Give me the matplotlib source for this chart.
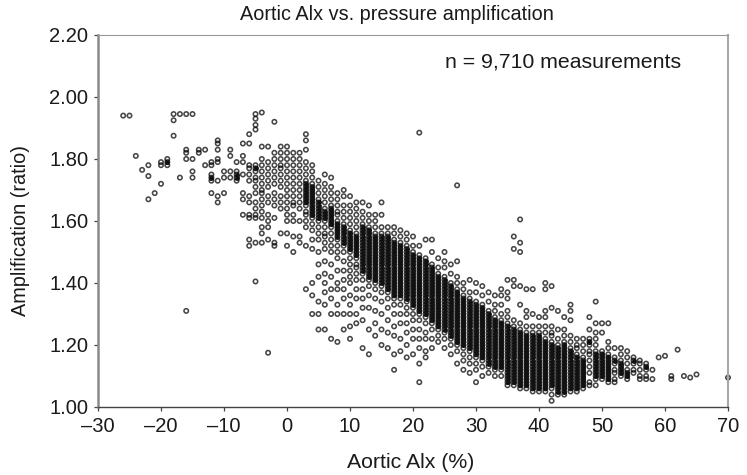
import matplotlib.pyplot as plt

plt.rcParams['font.family'] = ['Liberation Sans', 'DejaVu Sans']

x_ticks = [-30, -20, -10, 0, 10, 20, 30, 40, 50, 60, 70]
y_ticks = [1.00, 1.20, 1.40, 1.60, 1.80, 2.00, 2.20]

# values, one list of amplification per integer Alx
aix_left = list(range(-26, 0))
amp_left = [
    [1.94], [1.94], [1.81], [1.765], [1.78, 1.745, 1.67], [1.69],
    [1.79, 1.78, 1.72], [1.80, 1.79, 1.78], [1.945, 1.925, 1.875], [1.945, 1.74],
    [1.945, 1.83, 1.82, 1.80, 1.31], [1.945, 1.80, 1.76, 1.74], [1.83, 1.82],
    [1.83, 1.78], [1.79, 1.78, 1.75, 1.74, 1.73, 1.69],
    [1.86, 1.85, 1.83, 1.80, 1.79, 1.73, 1.68, 1.66], [1.76, 1.74, 1.69],
    [1.83, 1.81, 1.76, 1.74], [1.79, 1.76, 1.75, 1.74, 1.73],
    [1.85, 1.81, 1.79, 1.75, 1.69, 1.67, 1.62],
    [1.88, 1.85, 1.78, 1.77, 1.75, 1.73, 1.68, 1.66, 1.62, 1.61, 1.54, 1.52],
    [1.945, 1.93, 1.91, 1.895, 1.78, 1.77, 1.76, 1.74, 1.73, 1.71, 1.69, 1.66, 1.64, 1.62, 1.61, 1.53, 1.405],
    [1.95, 1.84, 1.80, 1.78, 1.76, 1.74, 1.72, 1.70, 1.69, 1.67, 1.65, 1.63, 1.61, 1.58, 1.56, 1.53],
    [1.84, 1.79, 1.77, 1.75, 1.73, 1.71, 1.68, 1.66, 1.62, 1.60, 1.58, 1.54, 1.175],
    [1.92, 1.82, 1.80, 1.78, 1.76, 1.74, 1.72, 1.69, 1.67, 1.65, 1.61, 1.53, 1.52],
    [1.84, 1.82, 1.80, 1.78, 1.77, 1.75, 1.73, 1.71, 1.68, 1.66, 1.64, 1.56],
]

aix_mid = list(range(0, 20))
amp_mid = [
    [1.84, 1.82, 1.80, 1.78, 1.76, 1.74, 1.72, 1.70, 1.68, 1.66, 1.64, 1.62, 1.60, 1.56, 1.52],
    [1.82, 1.80, 1.78, 1.76, 1.74, 1.72, 1.70, 1.68, 1.66, 1.65, 1.62, 1.60, 1.55, 1.50],
    [1.82, 1.80, 1.78, 1.76, 1.74, 1.72, 1.70, 1.68, 1.66, 1.64, 1.60, 1.55, 1.53],
    [1.88, 1.86, 1.83, 1.79, 1.77, 1.75, 1.73, 1.72, 1.71, 1.70, 1.69, 1.68, 1.67, 1.66, 1.65, 1.63, 1.62, 1.60, 1.58, 1.52, 1.38],
    [1.78, 1.76, 1.74, 1.72, 1.71, 1.70, 1.69, 1.68, 1.67, 1.66, 1.65, 1.64, 1.63, 1.62, 1.61, 1.59, 1.57, 1.54, 1.51, 1.40, 1.36, 1.30],
    [1.73, 1.71, 1.69, 1.67, 1.66, 1.65, 1.64, 1.63, 1.62, 1.61, 1.60, 1.58, 1.56, 1.54, 1.50, 1.46, 1.42, 1.34, 1.30, 1.25],
    [1.75, 1.72, 1.70, 1.68, 1.66, 1.64, 1.63, 1.62, 1.61, 1.60, 1.58, 1.56, 1.55, 1.53, 1.51, 1.47, 1.43, 1.40, 1.37, 1.33, 1.25],
    [1.74, 1.71, 1.69, 1.67, 1.65, 1.64, 1.63, 1.62, 1.61, 1.60, 1.59, 1.58, 1.56, 1.54, 1.52, 1.50, 1.46, 1.42, 1.38, 1.35, 1.30, 1.22],
    [1.69, 1.67, 1.65, 1.63, 1.62, 1.60, 1.59, 1.58, 1.57, 1.56, 1.55, 1.54, 1.52, 1.50, 1.48, 1.44, 1.40, 1.38, 1.33, 1.30, 1.21],
    [1.70, 1.68, 1.65, 1.63, 1.61, 1.59, 1.58, 1.57, 1.56, 1.55, 1.54, 1.53, 1.52, 1.50, 1.47, 1.44, 1.41, 1.38, 1.35, 1.30, 1.25],
    [1.68, 1.65, 1.63, 1.61, 1.59, 1.57, 1.56, 1.55, 1.54, 1.53, 1.52, 1.51, 1.50, 1.48, 1.46, 1.44, 1.42, 1.40, 1.36, 1.33, 1.30, 1.26, 1.22],
    [1.66, 1.64, 1.62, 1.60, 1.58, 1.56, 1.55, 1.54, 1.53, 1.52, 1.51, 1.50, 1.49, 1.48, 1.46, 1.45, 1.43, 1.41, 1.38, 1.35, 1.30, 1.27],
    [1.66, 1.63, 1.61, 1.59, 1.58, 1.57, 1.56, 1.55, 1.54, 1.53, 1.52, 1.51, 1.50, 1.49, 1.48, 1.47, 1.46, 1.45, 1.44, 1.43, 1.41, 1.38, 1.35, 1.32, 1.28, 1.19],
    [1.65, 1.62, 1.60, 1.58, 1.57, 1.56, 1.55, 1.54, 1.53, 1.52, 1.51, 1.50, 1.49, 1.48, 1.47, 1.46, 1.45, 1.44, 1.43, 1.42, 1.41, 1.39, 1.36, 1.32, 1.25, 1.17],
    [1.62, 1.60, 1.58, 1.56, 1.55, 1.54, 1.53, 1.52, 1.51, 1.50, 1.49, 1.48, 1.47, 1.46, 1.45, 1.44, 1.43, 1.42, 1.41, 1.40, 1.38, 1.35, 1.31, 1.27, 1.23],
    [1.66, 1.62, 1.58, 1.56, 1.55, 1.54, 1.53, 1.52, 1.51, 1.50, 1.49, 1.48, 1.47, 1.46, 1.45, 1.44, 1.43, 1.42, 1.41, 1.40, 1.39, 1.37, 1.34, 1.30, 1.25, 1.20],
    [1.58, 1.56, 1.55, 1.54, 1.53, 1.52, 1.51, 1.50, 1.49, 1.48, 1.47, 1.46, 1.45, 1.44, 1.43, 1.42, 1.41, 1.40, 1.39, 1.38, 1.37, 1.35, 1.32, 1.28, 1.24, 1.19],
    [1.58, 1.56, 1.54, 1.53, 1.52, 1.51, 1.50, 1.49, 1.48, 1.47, 1.46, 1.45, 1.44, 1.43, 1.42, 1.41, 1.40, 1.39, 1.38, 1.37, 1.36, 1.35, 1.33, 1.30, 1.26, 1.23, 1.17, 1.12],
    [1.57, 1.55, 1.53, 1.52, 1.51, 1.50, 1.49, 1.48, 1.47, 1.46, 1.45, 1.44, 1.43, 1.42, 1.41, 1.40, 1.39, 1.38, 1.37, 1.36, 1.35, 1.33, 1.30, 1.27, 1.22, 1.18],
    [1.56, 1.54, 1.52, 1.51, 1.50, 1.49, 1.48, 1.47, 1.46, 1.45, 1.44, 1.43, 1.42, 1.41, 1.40, 1.39, 1.38, 1.37, 1.36, 1.35, 1.34, 1.32, 1.30, 1.27, 1.24, 1.20, 1.16],
]

aix_right = list(range(20, 46))
amp_right = [
    [1.55, 1.52, 1.50, 1.49, 1.48, 1.47, 1.46, 1.45, 1.44, 1.43, 1.42, 1.41, 1.40, 1.39, 1.38, 1.37, 1.36, 1.35, 1.34, 1.33, 1.32, 1.30, 1.28, 1.25, 1.22, 1.17],
    [1.885, 1.52, 1.49, 1.48, 1.47, 1.46, 1.45, 1.44, 1.43, 1.42, 1.41, 1.40, 1.39, 1.38, 1.37, 1.36, 1.35, 1.34, 1.33, 1.32, 1.31, 1.30, 1.28, 1.25, 1.22, 1.19, 1.14, 1.08],
    [1.54, 1.48, 1.47, 1.46, 1.45, 1.44, 1.43, 1.42, 1.41, 1.40, 1.39, 1.38, 1.37, 1.36, 1.35, 1.34, 1.33, 1.32, 1.31, 1.30, 1.29, 1.27, 1.24, 1.22, 1.18, 1.16],
    [1.54, 1.50, 1.46, 1.45, 1.44, 1.43, 1.42, 1.41, 1.40, 1.39, 1.38, 1.37, 1.36, 1.35, 1.34, 1.33, 1.32, 1.31, 1.30, 1.29, 1.28, 1.27, 1.25, 1.22, 1.19],
    [1.48, 1.45, 1.43, 1.42, 1.41, 1.40, 1.39, 1.38, 1.37, 1.36, 1.35, 1.34, 1.33, 1.32, 1.31, 1.30, 1.29, 1.28, 1.27, 1.26, 1.25, 1.23, 1.21],
    [1.50, 1.47, 1.45, 1.42, 1.41, 1.40, 1.39, 1.38, 1.37, 1.36, 1.35, 1.34, 1.33, 1.32, 1.31, 1.30, 1.29, 1.28, 1.27, 1.26, 1.25, 1.24, 1.22, 1.19],
    [1.46, 1.43, 1.40, 1.39, 1.38, 1.37, 1.36, 1.35, 1.34, 1.33, 1.32, 1.31, 1.30, 1.29, 1.28, 1.27, 1.26, 1.25, 1.24, 1.23, 1.22, 1.20, 1.17],
    [1.715, 1.47, 1.42, 1.40, 1.38, 1.37, 1.36, 1.35, 1.34, 1.33, 1.32, 1.31, 1.30, 1.29, 1.28, 1.27, 1.26, 1.25, 1.24, 1.23, 1.22, 1.21, 1.20, 1.18, 1.14],
    [1.40, 1.38, 1.36, 1.35, 1.34, 1.33, 1.32, 1.31, 1.30, 1.29, 1.28, 1.27, 1.26, 1.25, 1.24, 1.23, 1.22, 1.21, 1.20, 1.19, 1.17, 1.15, 1.12],
    [1.41, 1.37, 1.35, 1.34, 1.33, 1.32, 1.31, 1.30, 1.29, 1.28, 1.27, 1.26, 1.25, 1.24, 1.23, 1.22, 1.21, 1.20, 1.19, 1.18, 1.16, 1.14, 1.11],
    [1.40, 1.37, 1.34, 1.33, 1.32, 1.31, 1.30, 1.29, 1.28, 1.27, 1.26, 1.25, 1.24, 1.23, 1.22, 1.21, 1.20, 1.19, 1.18, 1.17, 1.16, 1.14, 1.12, 1.08],
    [1.39, 1.36, 1.33, 1.32, 1.31, 1.30, 1.29, 1.28, 1.27, 1.26, 1.25, 1.24, 1.23, 1.22, 1.21, 1.20, 1.19, 1.18, 1.17, 1.16, 1.15, 1.13, 1.10],
    [1.37, 1.34, 1.31, 1.30, 1.29, 1.28, 1.27, 1.26, 1.25, 1.24, 1.23, 1.22, 1.21, 1.20, 1.19, 1.18, 1.17, 1.16, 1.15, 1.14, 1.13, 1.11],
    [1.36, 1.33, 1.31, 1.29, 1.28, 1.27, 1.26, 1.25, 1.24, 1.23, 1.22, 1.21, 1.20, 1.19, 1.18, 1.17, 1.16, 1.15, 1.14, 1.13, 1.12, 1.10],
    [1.38, 1.36, 1.33, 1.30, 1.28, 1.27, 1.26, 1.25, 1.24, 1.23, 1.22, 1.21, 1.20, 1.19, 1.18, 1.17, 1.16, 1.15, 1.14, 1.13, 1.12, 1.10],
    [1.41, 1.37, 1.35, 1.31, 1.29, 1.27, 1.26, 1.25, 1.24, 1.23, 1.22, 1.21, 1.20, 1.19, 1.18, 1.17, 1.16, 1.15, 1.14, 1.13, 1.12, 1.11, 1.10, 1.09, 1.08, 1.07],
    [1.55, 1.51, 1.41, 1.39, 1.28, 1.26, 1.25, 1.24, 1.23, 1.22, 1.21, 1.20, 1.19, 1.18, 1.17, 1.16, 1.15, 1.14, 1.13, 1.12, 1.11, 1.10, 1.09, 1.08, 1.07],
    [1.605, 1.53, 1.50, 1.39, 1.33, 1.27, 1.25, 1.24, 1.23, 1.22, 1.21, 1.20, 1.19, 1.18, 1.17, 1.16, 1.15, 1.14, 1.13, 1.12, 1.11, 1.10, 1.09, 1.08, 1.07, 1.06],
    [1.38, 1.31, 1.29, 1.26, 1.24, 1.23, 1.22, 1.21, 1.20, 1.19, 1.18, 1.17, 1.16, 1.15, 1.14, 1.13, 1.12, 1.11, 1.10, 1.09, 1.08, 1.07, 1.06],
    [1.38, 1.30, 1.26, 1.24, 1.23, 1.22, 1.21, 1.20, 1.19, 1.18, 1.17, 1.16, 1.15, 1.14, 1.13, 1.12, 1.11, 1.10, 1.09, 1.08, 1.07, 1.06, 1.05],
    [1.29, 1.26, 1.24, 1.23, 1.22, 1.21, 1.20, 1.19, 1.18, 1.17, 1.16, 1.15, 1.14, 1.13, 1.12, 1.11, 1.10, 1.09, 1.08, 1.07, 1.06, 1.05],
    [1.40, 1.38, 1.31, 1.29, 1.26, 1.24, 1.22, 1.21, 1.20, 1.19, 1.18, 1.17, 1.16, 1.15, 1.14, 1.13, 1.12, 1.11, 1.10, 1.09, 1.08, 1.07, 1.06, 1.05],
    [1.39, 1.32, 1.26, 1.24, 1.23, 1.21, 1.20, 1.19, 1.18, 1.17, 1.16, 1.15, 1.14, 1.13, 1.12, 1.11, 1.10, 1.09, 1.08, 1.07, 1.06, 1.04, 1.02],
    [1.31, 1.25, 1.22, 1.20, 1.19, 1.18, 1.17, 1.16, 1.15, 1.14, 1.13, 1.12, 1.11, 1.10, 1.09, 1.08, 1.07, 1.06, 1.05, 1.04],
    [1.29, 1.25, 1.23, 1.21, 1.20, 1.19, 1.18, 1.17, 1.16, 1.15, 1.14, 1.13, 1.12, 1.11, 1.10, 1.09, 1.08, 1.07, 1.06, 1.05, 1.04],
    [1.33, 1.31, 1.28, 1.23, 1.21, 1.19, 1.18, 1.17, 1.16, 1.15, 1.14, 1.13, 1.12, 1.11, 1.10, 1.09, 1.08, 1.07, 1.06, 1.05],
]

aix_tail = list(range(46, 71))
amp_tail = [
    [1.22, 1.20, 1.19, 1.17, 1.16, 1.15, 1.14, 1.13, 1.12, 1.11, 1.10, 1.09, 1.08, 1.07, 1.06, 1.05],
    [1.22, 1.20, 1.18, 1.16, 1.15, 1.14, 1.13, 1.12, 1.11, 1.10, 1.09, 1.08, 1.07, 1.06],
    [1.29, 1.25, 1.22, 1.21, 1.20, 1.18, 1.17, 1.15, 1.13, 1.11, 1.08, 1.07],
    [1.34, 1.27, 1.24, 1.22, 1.20, 1.18, 1.17, 1.16, 1.15, 1.14, 1.13, 1.12, 1.11, 1.10, 1.09, 1.07],
    [1.27, 1.24, 1.18, 1.17, 1.16, 1.15, 1.14, 1.13, 1.12, 1.11, 1.10, 1.09],
    [1.27, 1.21, 1.19, 1.17, 1.16, 1.15, 1.14, 1.13, 1.12, 1.11, 1.10, 1.09, 1.08],
    [1.19, 1.16, 1.15, 1.14, 1.12, 1.11, 1.09, 1.08],
    [1.19, 1.17, 1.15, 1.14, 1.13, 1.12, 1.11, 1.10],
    [1.18, 1.16, 1.14, 1.12, 1.11, 1.10, 1.09],
    [1.16, 1.15, 1.14, 1.12, 1.11],
    [1.15, 1.14, 1.12, 1.10, 1.09],
    [1.14, 1.13, 1.12, 1.10, 1.09],
    [1.12, 1.09],
    [1.16],
    [1.165],
    [1.10, 1.09],
    [1.185],
    [1.10],
    [1.095],
    [1.105],
    [], [], [], [],
    [1.095],
]

x_vals = []
y_vals = []
# rings packed tight in a column merge to solid black, so their holes get filled
x_packed = []
y_packed = []
for xs, cols in [(aix_left, amp_left), (aix_mid, amp_mid), (aix_right, amp_right), (aix_tail, amp_tail)]:
    for x, ys in zip(xs, cols):
        for i, y in enumerate(ys):
            x_vals.append(x)
            y_vals.append(y)
            if 0 < i < len(ys) - 1 and ys[i - 1] - y < 0.0101 and y - ys[i + 1] < 0.0101:
                x_packed.append(x)
                y_packed.append(y)

fig = plt.figure(figsize=(7.47, 4.75), dpi=100)
ax = fig.add_axes([98/747, 1 - 407/475, (728 - 98)/747, (407 - 35)/475])

ax.scatter(x_vals, y_vals, s=10, facecolors='none', edgecolors='black', linewidths=1.15, alpha=0.72, clip_on=False)
ax.scatter(x_packed, y_packed, s=12, facecolors='#111111', linewidths=0)

ax.set_xlim(-30, 70)
ax.set_ylim(1.0, 2.2)
ax.set_xticks(x_ticks)
ax.set_xticklabels([str(t).replace('-', '\u2013') for t in x_ticks])
ax.set_yticks(y_ticks)
ax.set_yticklabels(['%.2f' % t for t in y_ticks])
ax.tick_params(labelsize=14.5, length=3, width=0.9, color='#444444', labelcolor='#1a1a1a', pad=4)

ax.spines['left'].set_color('#8a8a8a')
ax.spines['left'].set_linewidth(1.8)
ax.spines['right'].set_color('#a8a8a8')
ax.spines['right'].set_linewidth(1.5)
ax.spines['top'].set_color('#999999')
ax.spines['top'].set_linewidth(0.8)
ax.spines['bottom'].set_color('#444444')
ax.spines['bottom'].set_linewidth(1.0)

fig.text(397/747, 1 - 15/475, 'Aortic Alx vs. pressure amplification', fontsize=14.3, color='#1a1a1a', ha='center', va='center')
fig.text(563/747, 1 - 62/475, 'n = 9,710 measurements', fontsize=15.3, color='#1a1a1a', ha='center', va='center')
fig.text(411/747, 1 - 462/475, 'Aortic Alx (%)', fontsize=15.3, color='#1a1a1a', ha='center', va='center')
fig.text(21/747, 1 - 231/475, 'Amplification (ratio)', fontsize=14.3, color='#1a1a1a', ha='center', va='center', rotation=90)

fig.savefig('out.png', dpi=100)
